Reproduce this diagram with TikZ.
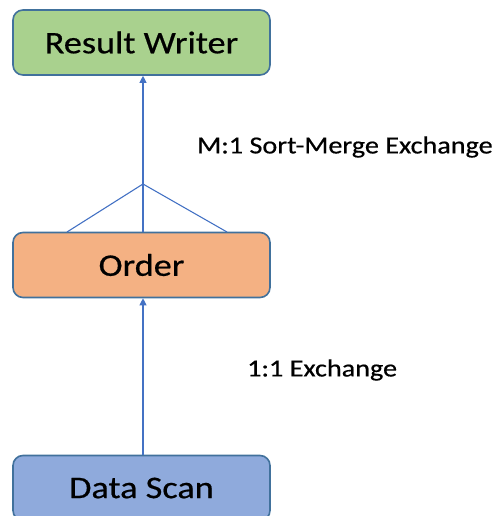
\documentclass[tikz,border=0pt]{standalone}
\usepackage{fontspec}
\setmainfont[FakeBold=0.5]{Carlito}
\usetikzlibrary{arrows.meta}
\definecolor{boxline}{HTML}{41719C}
\definecolor{flow}{HTML}{4472C4}
\definecolor{writerfill}{HTML}{A9D18E}
\definecolor{orderfill}{HTML}{F4B183}
\definecolor{scanfill}{HTML}{8FAADC}
\newcommand{\wide}[1]{\scalebox{1.15}[1]{#1}}
\tikzset{
  opbox/.style={draw=boxline, line width=1.6pt, rounded corners=10pt,
    minimum width=257pt, minimum height=65pt, inner sep=0pt,
    font=\fontsize{31.5}{34}\selectfont},
  flowline/.style={draw=flow, line width=1.1pt},
  flowarrow/.style={flowline, -{Triangle[width=7pt,length=7pt]}},
  edgelabel/.style={font=\fontsize{24.5}{27}\selectfont, anchor=west, inner sep=0pt}
}
\begin{document}
\begin{tikzpicture}[x=1pt, y=-1pt]
  \useasboundingbox (0,0) rectangle (498,516);
  \begin{scope}
    \clip (0,0) rectangle (498,516);
    \node[opbox, fill=writerfill] (writer) at (141.5,42.5) {\wide{Result Writer}};
    \node[opbox, fill=orderfill] (order) at (141.5,265) {\wide{Order}};
    \node[opbox, fill=scanfill] (scan) at (141.5,488) {\wide{Data Scan}};
  \end{scope}
  \coordinate (fan) at (143,184);
  \coordinate (fanL) at (67,232);
  \coordinate (fanR) at (227,232);
  \draw[flowarrow] (order.north -| fan) -- (writer.south -| fan);
  \draw[flowline] (fanL) -- (fan) -- (fanR);
  \draw[flowarrow] (scan.north -| fan) -- (order.south -| fan);
  \node[edgelabel] (mergelabel) at (197,147) {\wide{M:1 Sort-Merge Exchange}};
  \node[edgelabel] (xchglabel) at (247,370) {\wide{1:1 Exchange}};
\end{tikzpicture}
\end{document}
